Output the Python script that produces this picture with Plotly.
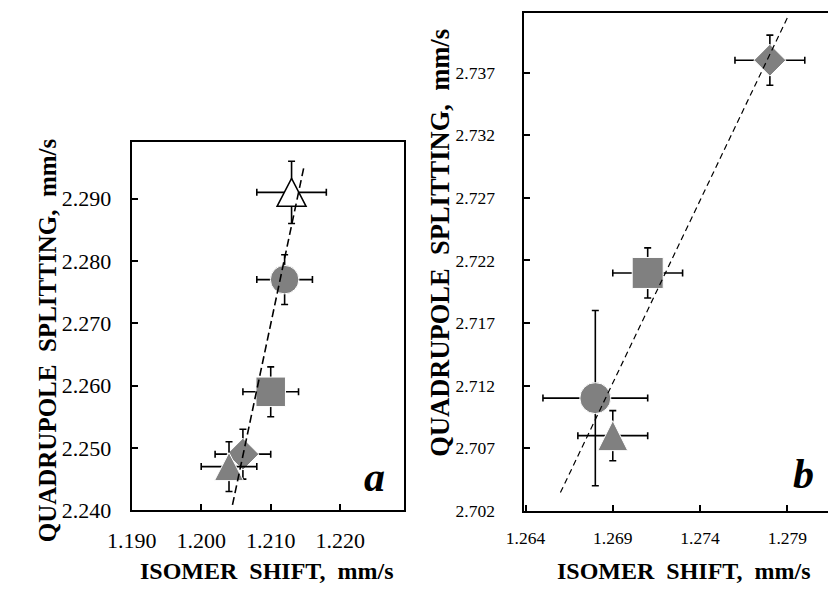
import numpy as np
import plotly.graph_objects as go

# ---- Panel a data: isomer shift vs quadrupole splitting (mm/s) ----
symbols_a = ["triangle-open", "circle", "square", "diamond", "triangle"]
is_a = [1.213, 1.212, 1.210, 1.206, 1.204]
qs_a = [2.291, 2.277, 2.259, 2.249, 2.247]
is_err_a = [0.005, 0.004, 0.004, 0.004, 0.004]
qs_err_a = [0.005, 0.004, 0.004, 0.004, 0.004]

# ---- Panel b data ----
symbols_b = ["diamond", "square", "circle", "triangle"]
is_b = [1.278, 1.271, 1.268, 1.269]
qs_b = [2.738, 2.721, 2.711, 2.708]
is_err_b = [0.002, 0.002, 0.003, 0.002]
qs_err_b = [0.002, 0.002, 0.007, 0.002]

# axis tick labels
xticks_a = ["1.190", "1.200", "1.210", "1.220"]
yticks_a = ["2.240", "2.250", "2.260", "2.270", "2.280", "2.290"]
xticks_b = ["1.264", "1.269", "1.274", "1.279"]
yticks_b = ["2.702", "2.707", "2.712", "2.717", "2.722", "2.727", "2.732", "2.737"]

W, H = 828, 603
GRAY = "#808080"
SERIF = "Liberation Serif, Times New Roman, serif"

# marker sizes (px) per panel
msize_a = {"circle": 28.5, "square": 29.5, "diamond": 24.5}
msize_b = {"circle": 31, "square": 31, "diamond": 24.5}
tri_a = (29, 28)
tri_b = (30, 30)


def px_x(p):
    return p / W


def px_y(p):
    return 1 - p / H


fig = go.Figure()
shapes = []


def tri_path(w, h):
    return f"M{-w/2},{-h/2} L{w/2},{-h/2} L0,{h/2} Z"


def add_points(xs, ys, ex, ey, syms, sizes, tri, xref, yref):
    for x, y, dx, dy, s in zip(xs, ys, ex, ey, syms):
        is_tri = s.startswith("triangle")
        marker = dict(size=sizes.get(s, 10), color=GRAY, symbol=s,
                      line=dict(color="white", width=1))
        if is_tri:
            marker = dict(size=1, color="rgba(0,0,0,0)")
        fig.add_trace(go.Scatter(
            x=[x], y=[y], mode="markers", marker=marker,
            error_x=dict(type="data", array=[dx], color="black",
                         thickness=1.6, width=3.5),
            error_y=dict(type="data", array=[dy], color="black",
                         thickness=1.6, width=3.5),
            xaxis=xref, yaxis=yref, showlegend=False, hoverinfo="skip"))
        if is_tri:
            open_ = s.endswith("open")
            shapes.append(dict(
                type="path", xref=xref, yref=yref,
                xsizemode="pixel", ysizemode="pixel",
                xanchor=x, yanchor=y, path=tri_path(*tri),
                fillcolor="white" if open_ else GRAY,
                line=dict(color="black" if open_ else "white",
                          width=1.5 if open_ else 1),
                layer="above"))


add_points(is_a, qs_a, is_err_a, qs_err_a, symbols_a, msize_a, tri_a, "x", "y")
add_points(is_b, qs_b, is_err_b, qs_err_b, symbols_b, msize_b, tri_b, "x2", "y2")

# trend lines (least squares)
# panel a: isomer shift regressed on quadrupole splitting
ka, ca = np.polyfit(qs_a, is_a, 1)
span_a = np.array([1.2045, 1.2148])
shapes.append(dict(type="line", xref="x", yref="y",
                   x0=span_a[0], y0=(span_a[0] - ca) / ka,
                   x1=span_a[1], y1=(span_a[1] - ca) / ka,
                   line=dict(color="black", width=1.6, dash="8px,4px"),
                   layer="above"))
# panel b: quadrupole splitting regressed on isomer shift
kb, cb = np.polyfit(is_b, qs_b, 1)
span_b = np.array([1.266, 1.279])
shapes.append(dict(type="line", xref="x2", yref="y2",
                   x0=span_b[0], y0=kb * span_b[0] + cb,
                   x1=span_b[1], y1=kb * span_b[1] + cb,
                   line=dict(color="black", width=1.2, dash="6px,4px"),
                   layer="above"))

axis_common = dict(showgrid=False, zeroline=False, showline=True,
                   linecolor="black", linewidth=2, ticks="inside",
                   tickcolor="black", tickwidth=1.5, ticklen=6)

fig.update_layout(
    width=W, height=H, margin=dict(l=0, r=0, t=0, b=0),
    paper_bgcolor="white", plot_bgcolor="white",
    shapes=shapes,
    xaxis=dict(**axis_common, domain=[px_x(110), px_x(391)], anchor="y",
               range=[1.190, 1.2292], mirror=True,
               tickvals=[float(t) for t in xticks_a], ticktext=xticks_a,
               tickfont=dict(family=SERIF, size=22, color="black"),
               ticklabelstandoff=9),
    yaxis=dict(**axis_common, domain=[px_y(521.5), px_y(145)], anchor="x",
               range=[2.240, 2.2991], mirror=True,
               tickvals=[float(t) for t in yticks_a], ticktext=yticks_a,
               tickfont=dict(family=SERIF, size=22, color="black"),
               ticklabelstandoff=14),
    xaxis2=dict(**axis_common, domain=[px_x(515), 1.0], anchor="y2",
                range=[1.26394, 1.28133], mirror=True,
                tickvals=[float(t) for t in xticks_b], ticktext=xticks_b,
                tickfont=dict(family=SERIF, size=17.5, color="black"),
                ticklabelstandoff=10),
    yaxis2=dict(**axis_common, domain=[px_y(522), px_y(13.3)], anchor="x2",
                range=[2.702, 2.74177], mirror=False,
                tickvals=[float(t) for t in yticks_b], ticktext=yticks_b,
                tickfont=dict(family=SERIF, size=17.5, color="black"),
                ticklabelstandoff=24),
)

NB = "\u00a0\u00a0"
ytitle = f"QUADRUPOLE{NB}SPLITTING,{NB}mm/s"
xtitle = f"ISOMER{NB}SHIFT,{NB}mm/s"


def label(text, x, y, size, angle=0, italic=False):
    fig.add_annotation(
        text=f"<b><i>{text}</i></b>" if italic else f"<b>{text}</b>",
        x=px_x(x), y=px_y(y), xref="paper", yref="paper",
        xanchor="center", yanchor="middle", showarrow=False, textangle=angle,
        font=dict(family=SERIF, size=size, color="black"))


label(ytitle, 23, 347.5, 25, angle=-90)
label(xtitle, 250, 584, 24)
label(ytitle, 428, 248, 26.5, angle=-90)
label(xtitle, 680, 584, 24)
label("a", 360, 488, 42, italic=True)
label("b", 803, 484, 42, italic=True)

fig.write_html("out.html")
